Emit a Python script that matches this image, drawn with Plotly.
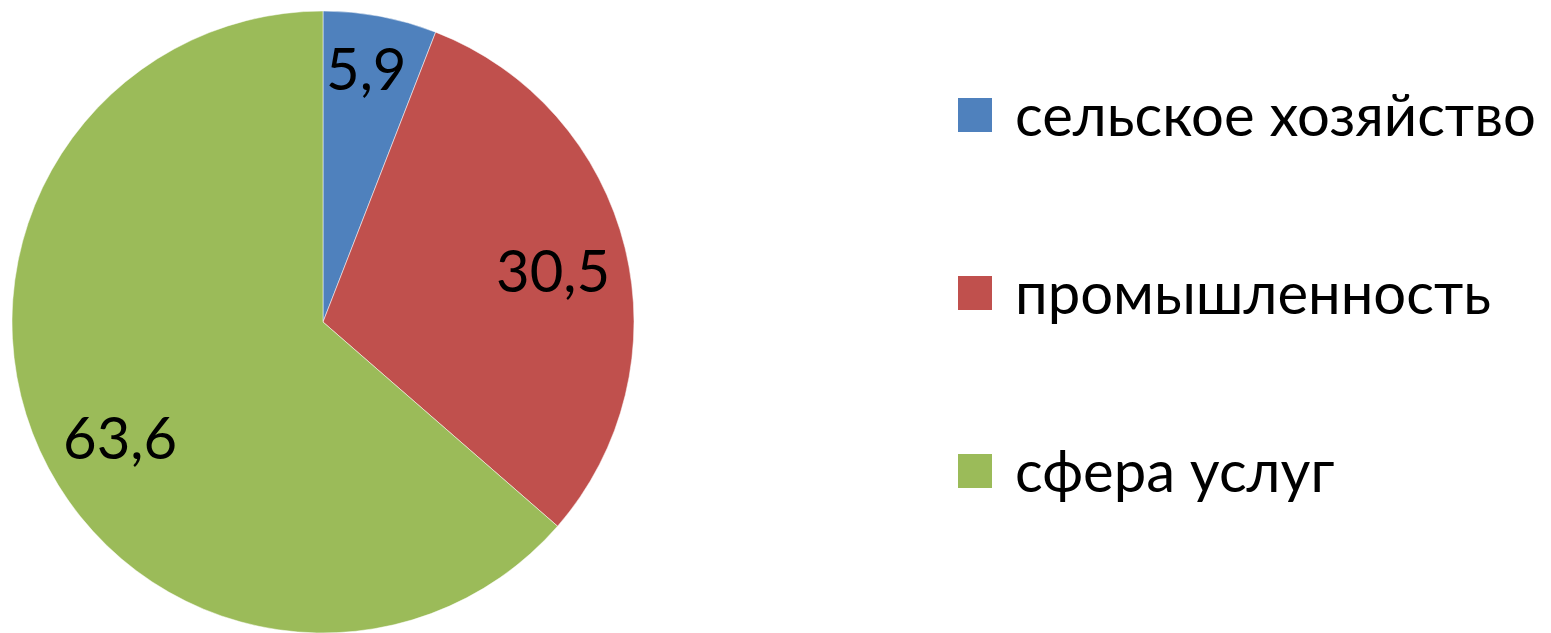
import math
import plotly.graph_objects as go

categories = ["сельское хозяйство", "промышленность", "сфера услуг"]
values = [5.9, 30.5, 63.6]
value_labels = ["5,9", "30,5", "63,6"]
colors = ["#4F81BD", "#C0504D", "#9BBB59"]

W, H = 1551, 633
OFF = 8  # page body margin in the browser
FONT = "Lato, 'Noto Sans', sans-serif"

# pie placement in pixels (screen coordinates)
cx, cy, R = 323 - OFF, 322 - OFF, 311

fig = go.Figure()
fig.add_trace(go.Pie(
    labels=categories,
    values=values,
    sort=False,
    direction="clockwise",
    rotation=0,
    marker=dict(colors=colors, line=dict(color="white", width=0.5)),
    textinfo="none",
    hoverinfo="label+value",
    showlegend=False,
    domain=dict(x=[(cx - R) / W, (cx + R) / W], y=[(H - cy - R) / H, (H - cy + R) / H]),
))

annotations = []
shapes = []
# data labels along the slice bisectors
total = sum(values)
cum = 0.0
label_r = [0.83, 0.76, 0.75]
label_shift_deg = [-1.0, 1.0, -5.0]
for v, t, lr, sh in zip(values, value_labels, label_r, label_shift_deg):
    mid = (cum + v / 2) / total * 2 * math.pi + math.radians(sh)
    cum += v
    px = cx + lr * R * math.sin(mid)
    py = cy - lr * R * math.cos(mid)
    annotations.append(dict(x=px / W, y=1 - py / H, xref="paper", yref="paper",
                            text=t, showarrow=False, xanchor="center", yanchor="middle",
                            font=dict(family=FONT, size=58, color="black")))

# legend
leg_x0, leg_y0, leg_dy, sq = 958 - OFF, 115 - OFF, 178, 34
for i, (c, col) in enumerate(zip(categories, colors)):
    yc = leg_y0 + i * leg_dy
    shapes.append(dict(type="rect", xref="paper", yref="paper",
                       x0=leg_x0 / W, x1=(leg_x0 + sq) / W,
                       y0=1 - (yc + sq / 2) / H, y1=1 - (yc - sq / 2) / H,
                       fillcolor=col, line=dict(width=0)))
    annotations.append(dict(x=(leg_x0 + sq + 21) / W, y=1 - (yc - 2) / H, xref="paper", yref="paper",
                            text=c, showarrow=False, xanchor="left", yanchor="middle",
                            font=dict(family=FONT, size=58, color="black")))

fig.update_layout(
    width=W, height=H,
    margin=dict(l=0, r=0, t=0, b=0),
    paper_bgcolor="white",
    plot_bgcolor="white",
    annotations=annotations,
    shapes=shapes,
)

fig.write_html("out.html")
